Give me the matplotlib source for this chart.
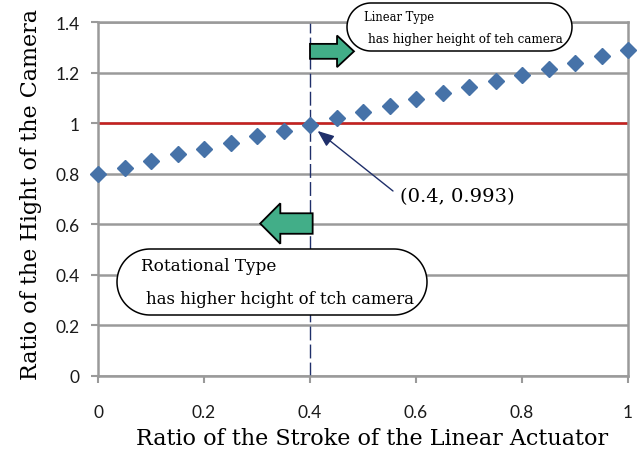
import matplotlib
matplotlib.use("Agg")
import numpy as np
import matplotlib.pyplot as plt
from matplotlib.patches import FancyArrow, Polygon
from matplotlib.transforms import IdentityTransform

# ---- data ----
stroke_ratio = [0.00, 0.05, 0.10, 0.15, 0.20, 0.25, 0.30, 0.35, 0.40, 0.45, 0.50,
                0.55, 0.60, 0.65, 0.70, 0.75, 0.80, 0.85, 0.90, 0.95, 1.00]
height_ratio = [0.800, 0.824, 0.850, 0.876, 0.898, 0.922, 0.948, 0.970, 0.993, 1.022, 1.043,
                1.068, 1.094, 1.118, 1.144, 1.166, 1.190, 1.216, 1.239, 1.264, 1.288]
reference_level = 1.0
crossover_x = 0.4
crossover_y = 0.993
x_ticks = [0, 0.2, 0.4, 0.6, 0.8, 1.0]
x_tick_labels = ["0", "0.2", "0.4", "0.6", "0.8", "1"]
y_ticks = [0, 0.2, 0.4, 0.6, 0.8, 1.0, 1.2, 1.4]
y_tick_labels = ["0", "0.2", "0.4", "0.6", "0.8", "1", "1.2", "1.4"]

W, H = 637, 452
DPI = 100
fig = plt.figure(figsize=(W / DPI, H / DPI), dpi=DPI)
ax = fig.add_axes([98 / W, 1 - 377 / H, (628 - 98) / W, (377 - 23) / H])

grid_c = "#9a9a9a"
serif = "DejaVu Serif"

ax.set_xlim(0, 1)
ax.set_ylim(0, 1.4)
ax.set_yticks(y_ticks)
ax.set_yticklabels(y_tick_labels)
ax.set_xticks(x_ticks)
ax.set_xticklabels(x_tick_labels)
for s in ax.spines.values():
    s.set_color(grid_c)
    s.set_linewidth(1.8)
ax.yaxis.grid(True, color=grid_c, linewidth=1.8)
ax.set_axisbelow(True)
ax.tick_params(axis="both", direction="out", color=grid_c, width=1.5, length=5,
               labelsize=12.5, labelcolor="#1a1a1a")
ax.tick_params(axis="x", pad=15)
ax.tick_params(axis="y", pad=8)
for lab in ax.get_xticklabels() + ax.get_yticklabels():
    lab.set_family("Lato")

# reference line
ax.axhline(reference_level, color="#c8201e", linewidth=1.8, zorder=2)
# dashed vertical line
ax.axvline(crossover_x, color="#1f2f6a", linewidth=1.0, dashes=(10, 3), zorder=2)

# data points
ax.plot(stroke_ratio, height_ratio, linestyle="none", marker="D", markersize=8.2,
        color="#4672a8", clip_on=False, zorder=4)

# green arrows
green = "#42ae88"
ax.add_patch(FancyArrow(0.4, 1.284, 0.083, 0, width=0.059, head_width=0.125,
                        head_length=0.032, length_includes_head=True,
                        facecolor=green, edgecolor="black", linewidth=1.3, zorder=5))
ax.add_patch(FancyArrow(0.405, 0.603, -0.099, 0, width=0.081, head_width=0.16,
                        head_length=0.038, length_includes_head=True,
                        facecolor=green, edgecolor="black", linewidth=1.3, zorder=5))

# annotation
ax.annotate("", xy=(crossover_x, crossover_y), xytext=(393, H - 192),
            textcoords=IdentityTransform(),
            xycoords="data",
            arrowprops=dict(arrowstyle="-|>,head_length=1.0,head_width=0.4",
                            color="#1f2f6a", linewidth=1.0,
                            shrinkA=0, shrinkB=7))
fig.text(400 / W, 1 - 197 / H, f"({crossover_x}, {crossover_y})", family=serif,
         fontsize=14, va="center", ha="left")

# stadium-shaped boxes (pixel coordinates, y measured from top)
def stadium(x0, y0, x1, y1):
    r = (y1 - y0) / 2
    yc = H - (y0 + y1) / 2
    t_left = np.linspace(np.pi / 2, 3 * np.pi / 2, 60)
    t_right = np.linspace(-np.pi / 2, np.pi / 2, 60)
    left = np.column_stack([x0 + r + r * np.cos(t_left), yc + r * np.sin(t_left)])
    right = np.column_stack([x1 - r + r * np.cos(t_right), yc + r * np.sin(t_right)])
    pts = np.vstack([left, right])
    p = Polygon(pts, closed=True, transform=IdentityTransform(), facecolor="white",
                edgecolor="black", linewidth=1.1, zorder=6)
    fig.add_artist(p)

stadium(347, 4, 572, 52)
fig.text(364 / W, 1 - 17 / H, "Linear Type", family=serif, fontsize=8.3,
         va="center", ha="left", zorder=7)
fig.text(368 / W, 1 - 40 / H, "has higher height of teh camera", family=serif,
         fontsize=8.6, va="center", ha="left", zorder=7)

stadium(117, 250, 427, 316)
fig.text(141 / W, 1 - 267 / H, "Rotational Type", family=serif, fontsize=12.2,
         va="center", ha="left", zorder=7)
fig.text(146 / W, 1 - 300 / H, "has higher hcight of tch camera", family=serif,
         fontsize=11.9, va="center", ha="left", zorder=7)

ax.set_xlabel("Ratio of the Stroke of the Linear Actuator", family=serif,
              fontsize=16)
ax.set_ylabel("Ratio of the Hight of the Camera", family=serif, fontsize=16)
ax.xaxis.set_label_coords((372 - 98) / 530, (377 - 428) / 354)
ax.yaxis.set_label_coords((42 - 98) / 530, (377 - 195) / 354)

fig.savefig("out.png", dpi=DPI)
